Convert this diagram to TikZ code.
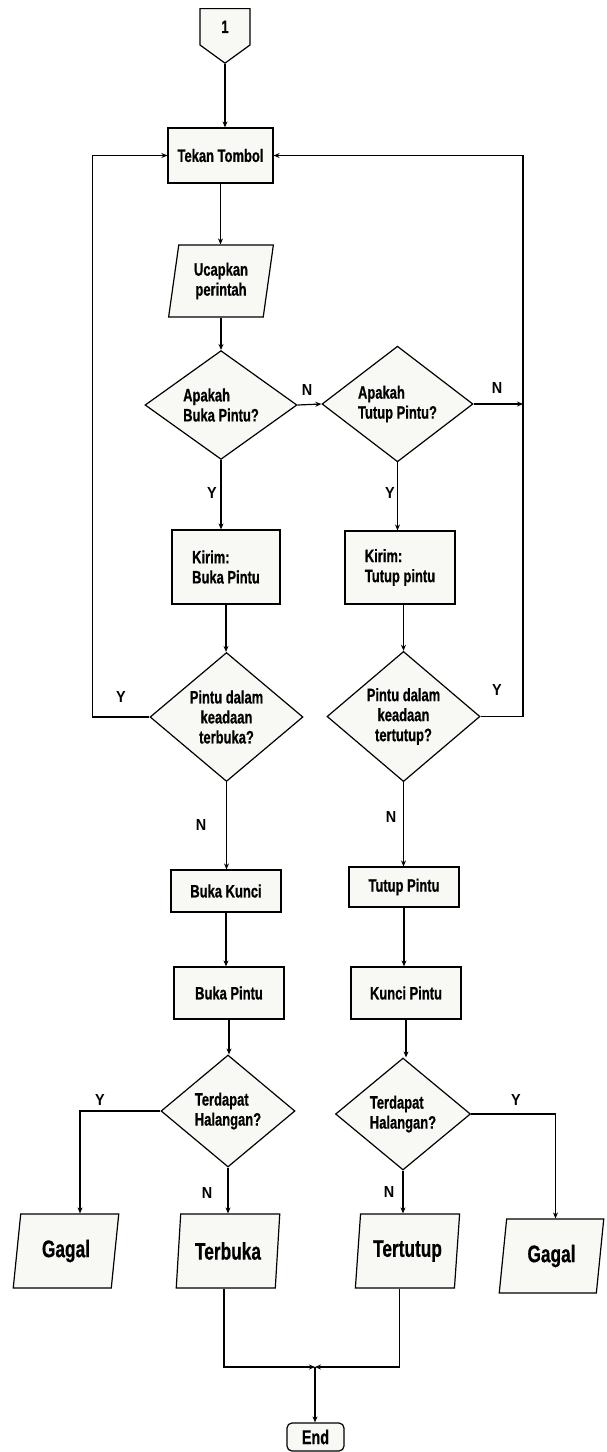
\documentclass[tikz,border=0pt]{standalone}
\usepackage{fontspec}
\setmainfont{Liberation Sans}[FakeStretch=0.72, BoldFeatures={FakeBold=0.6}]
\newfontfamily\ynfont{Liberation Sans}[FakeStretch=0.9]
\usetikzlibrary{arrows.meta,shapes.geometric,shapes.symbols}
\definecolor{boxfill}{RGB}{248,248,244}
\tikzset{
  proc/.style={draw, fill=boxfill, line width=1.2pt, inner sep=0pt, font=\fontsize{18}{20}\selectfont\bfseries},
  io/.style={proc, trapezium, trapezium left angle=80, trapezium right angle=100, trapezium stretches=true},
  bigio/.style={io, font=\fontsize{24}{26}\selectfont\bfseries},
  decide/.style={proc, diamond},
  yn/.style={font=\ynfont\fontsize{16}{16}\selectfont\bfseries},
  flow/.style={line width=1.2pt, -{Stealth[length=6pt,width=5pt]}}
}
\begin{document}
\begin{tikzpicture}[x=1pt,y=-1pt]
\useasboundingbox (0,0) rectangle (607,1452);
\node[proc, signal, signal to=south, signal pointer angle=108, minimum width=50pt, minimum height=39pt, anchor=north] (conn) at (225,8) {1};
\node[proc, minimum width=105pt, minimum height=55pt] (tekan) at (220.5,155.5) {Tekan Tombol};
\node[io, minimum width=105pt, minimum height=72pt, align=center] (ucap) at (221,281) {Ucapkan\\perintah};
\node[decide, minimum width=152pt, minimum height=96pt, align=left] (d1) at (221,405) {Apakah\\Buka Pintu?};
\node[decide, minimum width=151pt, minimum height=98pt, align=left] (d2) at (397.5,404) {Apakah\\Tutup Pintu?};
\node[proc, minimum width=108pt, minimum height=74pt, align=left] (k1) at (226,567) {Kirim:\\Buka Pintu};
\node[proc, minimum width=110pt, minimum height=73pt, align=left] (k2) at (400,567.5) {Kirim:\\Tutup pintu};
\node[decide, minimum width=153pt, minimum height=129pt, align=center] (d3) at (226.5,717) {Pintu dalam\\keadaan\\terbuka?};
\node[decide, minimum width=153pt, minimum height=127pt, align=center] (d4) at (403.5,716.5) {Pintu dalam\\keadaan\\tertutup?};
\node[proc, minimum width=110pt, minimum height=42pt] (bk) at (226,891) {Buka Kunci};
\node[proc, minimum width=110pt, minimum height=40pt] (tp) at (404,887) {Tutup Pintu};
\node[proc, minimum width=110pt, minimum height=52pt] (bp) at (229,993) {Buka Pintu};
\node[proc, minimum width=110pt, minimum height=52pt] (kp) at (406,993) {Kunci Pintu};
\node[decide, minimum width=134pt, minimum height=112pt, align=left] (d5) at (228,1111) {Terdapat\\Halangan?};
\node[decide, minimum width=135pt, minimum height=112pt, align=left] (d6) at (403,1114) {Terdapat\\Halangan?};
\node[bigio, minimum width=106pt, minimum height=74pt] (g1) at (66,1251) {Gagal};
\node[bigio, minimum width=104pt, minimum height=74pt] (tb) at (228,1251) {Terbuka};
\node[bigio, minimum width=105pt, minimum height=74pt] (tt) at (407.5,1251) {Tertutup};
\node[bigio, minimum width=105pt, minimum height=74pt] (g2) at (551.5,1256) {Gagal};
\node[proc, rounded corners=5pt, minimum width=57pt, minimum height=28pt, font=\fontsize{20}{20}\selectfont\bfseries] (end) at (315.5,1437) {End};
\coordinate (rline) at (523,0);
\coordinate (jn) at (315,1367);
\node[yn] (n1) at (307,390) {N};
\node[yn] (n2) at (497,388) {N};
\node[yn] (y1) at (212,493) {Y};
\node[yn] (y2) at (390,493) {Y};
\node[yn] (y3) at (121,697) {Y};
\node[yn] (y4) at (497,690) {Y};
\node[yn] (n3) at (201,825) {N};
\node[yn] (n4) at (391,817) {N};
\node[yn] (y5) at (100,1100) {Y};
\node[yn] (y6) at (516,1100) {Y};
\node[yn] (n5) at (207,1193) {N};
\node[yn] (n6) at (389,1192) {N};
\draw[flow] (conn.south) -- (conn.south |- tekan.north);
\draw[flow] (tekan.south) -- (tekan.south |- ucap.north);
\draw[flow] (ucap.south) -- (ucap.south |- d1.north);
\draw[flow] (d1.east) -- (d2.west);
\draw[flow] (d2.east) -- (d2.east -| rline);
\draw[flow] (d1.south) -- (d1.south |- k1.north);
\draw[flow] (d2.south) -- (d2.south |- k2.north);
\draw[flow] (k1.south) -- (k1.south |- d3.north);
\draw[flow] (d4.north |- k2.south) -- (d4.north);
\draw[flow] (d3.west) -- ++(-57,0) |- (tekan.west);
\draw[flow] (d4.east) -| (rline |- tekan.east) -- (tekan.east);
\draw[flow] (d3.south) -- (d3.south |- bk.north);
\draw[flow] (d4.south) -- (d4.south |- tp.north);
\draw[flow] (bk.south) -- (bk.south |- bp.north);
\draw[flow] (tp.south) -- (tp.south |- kp.north);
\draw[flow] (bp.south) -- (bp.south |- d5.north);
\draw[flow] (kp.south) -- (kp.south |- d6.north);
\draw[flow] (d5.west) -| ([xshift=14pt]g1.north);
\draw[flow] (d6.east) -| ([xshift=4pt]g2.north);
\draw[flow] (d5.south) -- (d5.south |- tb.north);
\draw[flow] (d6.south) -- (d6.south |- tt.north);
\draw[flow] ([xshift=-4pt]tb.south) |- (jn);
\draw[flow] ([xshift=-8pt]tt.south) |- (jn);
\draw[flow] (jn) -- (jn |- end.north);
\end{tikzpicture}
\end{document}
